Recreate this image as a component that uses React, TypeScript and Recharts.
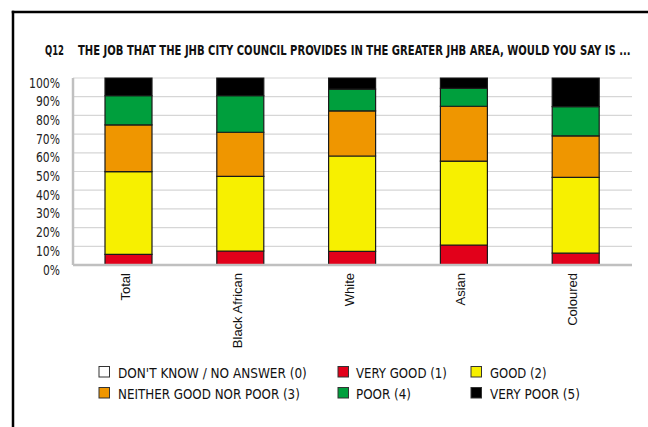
import React, { useLayoutEffect, useRef, useState } from 'react';
import { BarChart, Bar, XAxis, YAxis, CartesianGrid } from 'recharts';

const CATEGORIES = ['Total', 'Black African', 'White', 'Asian', 'Coloured'];
const DONT_KNOW = [0, 0, 0, 0, 0];
const VERY_GOOD = [5.7, 7.5, 7.3, 10.7, 6.3];
const GOOD = [44.2, 39.9, 51.0, 44.9, 40.6];
const NEITHER = [25.0, 23.6, 24.1, 29.3, 22.2];
const POOR = [15.6, 19.5, 11.6, 9.6, 15.6];
const VERY_POOR = [9.5, 9.5, 6.0, 5.5, 15.3];
const Y_TICKS = [0, 10, 20, 30, 40, 50, 60, 70, 80, 90, 100];

const TITLE_Q = 'Q12';
const TITLE_TEXT = 'THE JOB THAT THE JHB CITY COUNCIL PROVIDES IN THE GREATER JHB AREA, WOULD YOU SAY IS ...';

const SERIES = [
  { key: 'dk', name: "DON'T KNOW / NO ANSWER (0)", values: DONT_KNOW, color: '#ffffff' },
  { key: 'vg', name: 'VERY GOOD (1)', values: VERY_GOOD, color: '#e2001a' },
  { key: 'g', name: 'GOOD (2)', values: GOOD, color: '#f7f000' },
  { key: 'n', name: 'NEITHER GOOD NOR POOR (3)', values: NEITHER, color: '#ef9600' },
  { key: 'p', name: 'POOR (4)', values: POOR, color: '#009f3d' },
  { key: 'vp', name: 'VERY POOR (5)', values: VERY_POOR, color: '#000000' },
];

const rows = CATEGORIES.map((c, i) => {
  const r: any = { group: c };
  SERIES.forEach((s) => { r[s.key] = s.values[i]; });
  return r;
});

// layout (not data)
const COND = "'DejaVu Sans Condensed', 'DejaVu Sans', sans-serif";
const PLOT_BOTTOM = 265;
const LEGEND_SWATCH_X = [99, 338, 471];
const LEGEND_TEXT_X = [118, 356, 490];
const LEGEND_ROW_Y = [377.5, 398.5];
const LEGEND_TEXT_W = [189, 91, 56.5, 182, 55, 90];

const FitText = ({ x, y, width, children, ...rest }: any) => {
  const ref = useRef<SVGTextElement>(null);
  const [sx, setSx] = useState(1);
  useLayoutEffect(() => {
    if (ref.current) {
      const w = ref.current.getComputedTextLength();
      if (w > 0) setSx(width / w);
    }
  }, [width, children]);
  return (
    <text ref={ref} x={0} y={0} transform={`translate(${x},${y}) scale(${sx},1)`} {...rest}>
      {children}
    </text>
  );
};

const YTick = (props: any) => {
  const { y, payload } = props;
  const label = `${payload.value}%`;
  const w = (label.length - 1) * 7 + 10;
  return (
    <FitText x={60 - w} y={y + 9.5} width={w} fontFamily={COND} fontStretch="condensed" fontSize={14} fill="#222">
      {label}
    </FitText>
  );
};

const XTick = (props: any) => {
  const { x, payload } = props;
  const ty = PLOT_BOTTOM + 8;
  const tx = x + 1;
  return (
    <text x={tx} y={ty} transform={`rotate(-90, ${tx}, ${ty})`} textAnchor="end" fontFamily="'Liberation Sans', Arial, sans-serif" fontSize={13} fill="#111">
      {payload.value}
    </text>
  );
};

export default function App() {
  const axisStroke = { stroke: '#c0c0c0', strokeWidth: 2.5 };
  return (
    <div style={{ position: 'absolute', left: 0, top: 0, width: 648, height: 427, background: '#fff', overflow: 'hidden' }}>
      <svg width={648} height={427} style={{ position: 'absolute', left: 0, top: 0 }}>
        <line x1={13} y1={10.75} x2={13} y2={427} stroke="#000" strokeWidth={2.5} />
        <line x1={11.75} y1={12} x2={648} y2={12} stroke="#000" strokeWidth={2.5} />
        <FitText x={45} y={55} width={19} fontFamily={COND} fontStretch="condensed" fontWeight="bold" fontSize={14.5} fill="#111">{TITLE_Q}</FitText>
        <FitText x={78} y={55} width={553} fontFamily={COND} fontStretch="condensed" fontWeight="bold" fontSize={14.5} fill="#111">{TITLE_TEXT}</FitText>
        {SERIES.map((s, i) => {
          const col = i % 3;
          const row = Math.floor(i / 3);
          const by = LEGEND_ROW_Y[row];
          return (
            <g key={s.key}>
              <rect x={LEGEND_SWATCH_X[col]} y={by - 11} width={10.5} height={10.5} fill={s.color} stroke="#333" strokeWidth={1} />
              <FitText x={LEGEND_TEXT_X[col]} y={by} width={LEGEND_TEXT_W[i]} fontFamily={COND} fontStretch="condensed" fontSize={14.5} fill="#111">{s.name}</FitText>
            </g>
          );
        })}
      </svg>
      <div style={{ position: 'absolute', left: 0, top: 0 }}>
        <BarChart width={648} height={427} data={rows} margin={{ top: 78, right: 16, bottom: 72, left: 13 }} barSize={47}>
          <CartesianGrid vertical={false} stroke="#d6d6d6" strokeWidth={1.2} />
          <XAxis dataKey="group" height={90} interval={0} tickLine={false} axisLine={axisStroke} tick={<XTick />} />
          <XAxis xAxisId="top" dataKey="group" orientation="top" height={0} tick={false} tickLine={false} axisLine={axisStroke} />
          <YAxis width={60} domain={[0, 100]} ticks={Y_TICKS} interval={0} tickLine={false} axisLine={axisStroke} tick={<YTick />} />
          <YAxis yAxisId="right" orientation="right" width={0} domain={[0, 100]} tick={false} tickLine={false} axisLine={axisStroke} />
          {SERIES.map((s) => (
            <Bar key={s.key} dataKey={s.key} name={s.name} stackId="a" fill={s.color} stroke="#1a1a1a" strokeWidth={1.2} isAnimationActive={false} />
          ))}
        </BarChart>
      </div>
    </div>
  );
}
